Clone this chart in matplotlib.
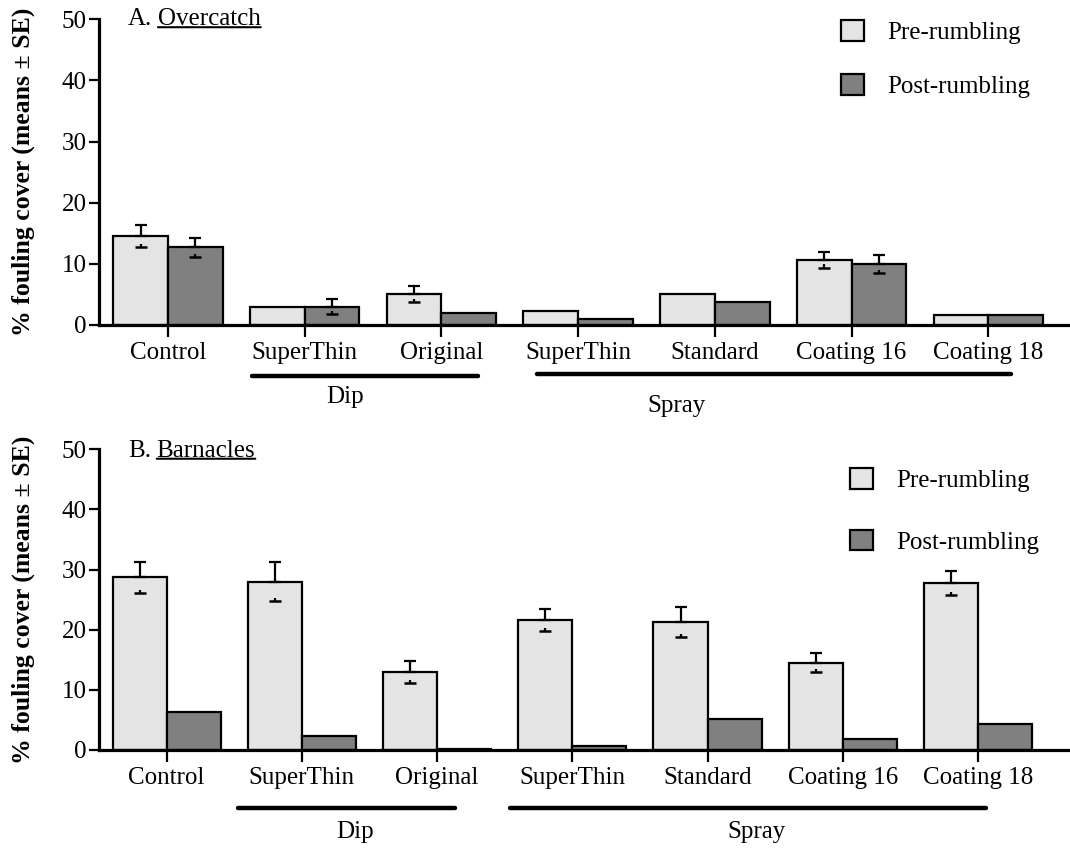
import matplotlib
matplotlib.use("Agg")
import matplotlib.pyplot as plt
from matplotlib.patches import Patch
from matplotlib.transforms import blended_transform_factory
import numpy as np

# ---- data -----------------------------------------------------------------
categories = ["Control", "SuperThin", "Original", "SuperThin", "Standard",
              "Coating 16", "Coating 18"]
series_names = ["Pre-rumbling", "Post-rumbling"]

overcatch_pre = [14.5, 2.9, 5.0, 2.3, 5.1, 10.7, 1.6]
overcatch_pre_se = [1.8, 0.0, 1.3, 0.0, 0.0, 1.3, 0.0]
overcatch_post = [12.7, 3.0, 1.9, 0.9, 3.7, 10.0, 1.6]
overcatch_post_se = [1.6, 1.2, 0.0, 0.0, 0.0, 1.5, 0.0]

barnacle_pre = [28.7, 28.0, 13.0, 21.6, 21.3, 14.5, 27.7]
barnacle_pre_se = [2.6, 3.2, 1.8, 1.8, 2.5, 1.6, 2.0]
barnacle_post = [6.3, 2.4, 0.2, 0.6, 5.2, 1.9, 4.4]
barnacle_post_se = [0.0, 0.0, 0.0, 0.0, 0.0, 0.0, 0.0]

method_groups = ["Dip", "Spray"]

# ---- style ----------------------------------------------------------------
plt.rcParams["font.family"] = ["Liberation Serif", "DejaVu Serif"]
FS = 18
LIGHT = "#e4e4e4"
DARK = "#808080"
W = 1070
H = 848

fig = plt.figure(figsize=(W / 100, H / 100), dpi=100)


def px_axes(left, top, bottom):
    return fig.add_axes([left / W, 1 - bottom / H, 1 - left / W,
                         (bottom - top) / H])


def draw_errors(ax, xs, means, ses):
    for x, m, s in zip(xs, means, ses):
        if s <= 0:
            continue
        # upper whisker visible above the bar
        ax.errorbar(x, m, yerr=[[0], [s]], fmt="none", ecolor="black",
                    elinewidth=1.6, capsize=4, capthick=1.6, zorder=4)
        # lower cap inside the bar with a short stub
        ax.plot([x], [m - s], marker="_", ms=8, mew=1.8, color="black",
                zorder=4)
        ax.vlines(x, m - s, m - s + 0.5, color="black", lw=1.6, zorder=4)


def panel(ax, pre, pre_se, post, post_se, prefix, word, xlim,
          title_y, groups, legend_anchor, legend_spacing):
    x = np.arange(len(categories))
    bw = 0.4
    ax.bar(x - bw / 2, pre, width=bw, color=LIGHT, edgecolor="black",
           linewidth=1.6, zorder=2, label=series_names[0])
    ax.bar(x + bw / 2, post, width=bw, color=DARK, edgecolor="black",
           linewidth=1.6, zorder=2, label=series_names[1])
    draw_errors(ax, x - bw / 2, pre, pre_se)
    draw_errors(ax, x + bw / 2, post, post_se)

    ax.set_xlim(*xlim)
    ax.set_ylim(0, 50)
    ax.set_yticks([0, 10, 20, 30, 40, 50])
    ax.set_xticks(x)
    ax.set_xticklabels(categories)
    for side in ("top", "right"):
        ax.spines[side].set_visible(False)
    for side in ("left", "bottom"):
        ax.spines[side].set_linewidth(2.3)
        ax.spines[side].set_zorder(5)
    ax.tick_params(axis="y", direction="out", length=7, width=1.6,
                   labelsize=FS, pad=2)
    ax.tick_params(axis="x", direction="out", length=8.5, width=1.6,
                   labelsize=FS, pad=4)

    ax.set_ylabel("% fouling cover (means ± SE)", fontsize=18.5,
                  fontweight="bold")
    ax.yaxis.set_label_coords(-0.066, 0.5)

    # panel title with underlined word
    t1 = ax.text(0.030, title_y, prefix, transform=ax.transAxes,
                 fontsize=FS, ha="left", va="center")
    t2 = ax.annotate(word, xy=(1, 0), xycoords=t1, xytext=(4, 0),
                     textcoords="offset points", fontsize=FS,
                     ha="left", va="bottom")
    ax.annotate("", xy=(0, 0.14), xycoords=t2, xytext=(1, 0.14),
                textcoords=t2,
                arrowprops=dict(arrowstyle="-", lw=1.5, color="black",
                                shrinkA=0, shrinkB=0))

    # application-method brackets below the tick labels
    trans = blended_transform_factory(ax.transData, ax.transAxes)
    for name, (x0, x1, ly, tx, ty) in zip(method_groups, groups):
        ax.plot([x0, x1], [ly, ly], color="black", lw=3.2,
                solid_capstyle="round", transform=trans, clip_on=False)
        ax.text(tx, ty, name, transform=trans, fontsize=FS, ha="center",
                va="center")

    handles = [Patch(facecolor=LIGHT, edgecolor="black", linewidth=1.6),
               Patch(facecolor=DARK, edgecolor="black", linewidth=1.6)]
    fig.legend(handles, series_names, loc="upper left",
               bbox_to_anchor=legend_anchor, frameon=False, fontsize=FS,
               handlelength=0.9, handleheight=0.9, handletextpad=0.95,
               labelspacing=legend_spacing, borderpad=0, borderaxespad=0)


ax_a = px_axes(99, 19.3, 325)
ax_b = px_axes(99, 449.3, 750)

panel(ax_a, overcatch_pre, overcatch_pre_se, overcatch_post,
      overcatch_post_se, "A.", "Overcatch", (-0.505, 6.598), 1.0,
      [(0.614, 2.268, -0.167, 1.295, -0.236),
       (2.70, 6.17, -0.160, 3.72, -0.265)],
      (841 / W, 1 - 20 / H), 1.2)

panel(ax_b, barnacle_pre, barnacle_pre_se, barnacle_post,
      barnacle_post_se, "B.", "Barnacles", (-0.50, 6.68), 0.995,
      [(0.527, 2.13, -0.193, 1.39, -0.273),
       (2.54, 6.06, -0.193, 4.36, -0.273)],
      (850 / W, 1 - 468 / H), 1.5)

fig.savefig("out.png", dpi=100)
